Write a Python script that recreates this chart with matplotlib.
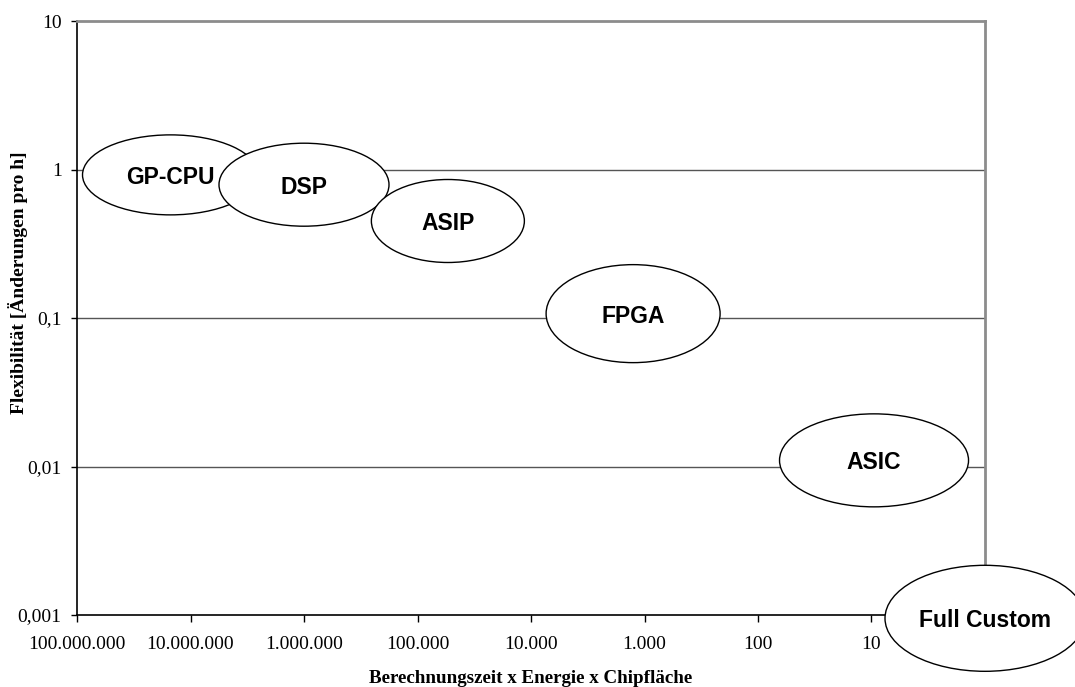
import matplotlib
matplotlib.use("Agg")
import matplotlib.pyplot as plt
from matplotlib.patches import Ellipse
from matplotlib.transforms import ScaledTranslation
from matplotlib.ticker import FixedLocator, NullLocator

# Technology positions (x: time x energy x area, y: flexibility)
names = ["GP-CPU", "DSP", "ASIP", "FPGA", "ASIC", "Full Custom"]
x_vals = [1.5e7, 1.0e6, 5.4e4, 1.26e3, 9.5, 1.0]
y_vals = [0.92, 0.79, 0.45, 0.107, 0.011, 0.00095]
# ellipse size in inches (at 100 dpi)
widths = [1.76, 1.70, 1.53, 1.74, 1.89, 2.00]
heights = [0.80, 0.83, 0.83, 0.98, 0.93, 1.06]

x_ticks = [1e8, 1e7, 1e6, 1e5, 1e4, 1e3, 1e2, 1e1]
x_labels = ["100.000.000", "10.000.000", "1.000.000", "100.000",
            "10.000", "1.000", "100", "10"]
y_ticks = [0.001, 0.01, 0.1, 1, 10]
y_labels = ["0,001", "0,01", "0,1", "1", "10"]

serif = "Liberation Serif"
sans = "Liberation Sans"

fig = plt.figure(figsize=(10.75, 6.87), dpi=100)
ax = fig.add_axes([77/1075, 1 - 615/687, 908/1075, 594/687])
ax.set_xscale("log")
ax.set_yscale("log")
ax.set_xlim(1e8, 1)
ax.set_ylim(0.001, 10)

ax.xaxis.set_major_locator(FixedLocator(x_ticks))
ax.xaxis.set_minor_locator(NullLocator())
ax.yaxis.set_major_locator(FixedLocator(y_ticks))
ax.yaxis.set_minor_locator(NullLocator())
ax.set_xticklabels(x_labels, fontfamily=serif, fontsize=14)
ax.set_yticklabels(y_labels, fontfamily=serif, fontsize=14)
ax.tick_params(axis="x", length=5, width=1, pad=10)
ax.tick_params(axis="y", length=4, width=1, pad=7)

for s in ["left", "bottom"]:
    ax.spines[s].set_color("black")
    ax.spines[s].set_linewidth(1.2)
for s in ["top", "right"]:
    ax.spines[s].set_color("#8c8c8c")
    ax.spines[s].set_linewidth(2)

for yv in [0.01, 0.1, 1]:
    ax.axhline(yv, color="#555555", lw=1, zorder=1)

ax.set_xlabel("Berechnungszeit x Energie x Chipfläche", fontfamily=serif,
              fontsize=13.7, fontweight="bold")
ax.xaxis.set_label_coords(0.5, -0.093)
ax.set_ylabel("Flexibilität [Änderungen pro h]", fontfamily=serif,
              fontsize=14, fontweight="bold")
ax.yaxis.set_label_coords(-0.054, 0.56)

for i, name in enumerate(names):
    tr = fig.dpi_scale_trans + ScaledTranslation(x_vals[i], y_vals[i], ax.transData)
    e = Ellipse((0, 0), widths[i], heights[i], transform=tr, facecolor="white",
                edgecolor="black", lw=1, zorder=5 + i, clip_on=False)
    fig.add_artist(e)
    fig.text(0, -0.025, name, transform=tr, ha="center", va="center",
             fontfamily=sans, fontweight="bold", fontsize=16.5, zorder=6 + i)

fig.savefig("out.png", dpi=100)
